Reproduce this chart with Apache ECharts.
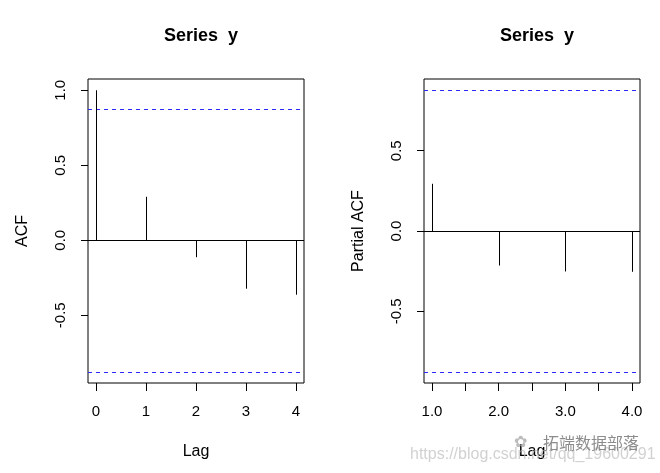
<!DOCTYPE html>
<html>
<head>
<meta charset="utf-8">
<script src="https://cdn.jsdelivr.net/npm/echarts@6/dist/echarts.min.js"></script>
<style>
  html, body { margin: 0; padding: 0; background: #fff; }
  #chart { width: 660px; height: 473px; }
</style>
</head>
<body>
<div id="chart"></div>
<script>
// ACF / PACF values
const acfLags = [0, 1, 2, 3, 4];
const acfValues = [1.0, 0.29, -0.113, -0.323, -0.363];
const pacfLags = [1, 2, 3, 4];
const pacfValues = [0.294, -0.215, -0.252, -0.254];
const ciBounds = [0.8765, -0.8765]; // +-1.96 / sqrt(5)

const acfXTicks = [0, 1, 2, 3, 4];
const pacfXTicks = [1, 1.5, 2, 2.5, 3, 3.5, 4];
const pacfXLabels = [1, 2, 3, 4];
const acfYTicks = [-0.5, 0, 0.5, 1.0];
const pacfYTicks = [-0.5, 0, 0.5];

const FONT = '"Liberation Sans", Arial, sans-serif';

const chart = echarts.init(document.getElementById('chart'));

function stemSeries(idx, lags, vals) {
  return {
    type: 'custom',
    xAxisIndex: idx,
    yAxisIndex: idx,
    data: lags.map((l, i) => [l, vals[i]]),
    renderItem: function (params, api) {
      const p0 = api.coord([api.value(0), 0]);
      const p1 = api.coord([api.value(0), api.value(1)]);
      return {
        type: 'line',
        shape: { x1: Math.round(p0[0]) + 0.5, y1: p0[1], x2: Math.round(p1[0]) + 0.5, y2: p1[1] },
        style: { stroke: '#000', lineWidth: 1 }
      };
    },
    markLine: {
      silent: true,
      symbol: 'none',
      label: { show: false },
      lineStyle: { color: '#000', type: 'solid', width: 1 },
      data: [{ yAxis: 0 }]
    },
    z: 5
  };
}

// dashed confidence bounds, drawn across the whole plot box
function ciSeries(idx) {
  return {
    type: 'custom',
    xAxisIndex: idx,
    yAxisIndex: idx,
    data: ciBounds.map(v => [0, v]),
    renderItem: function (params, api) {
      const cs = params.coordSys;
      const y = Math.round(api.coord([api.value(0), api.value(1)])[1]) + 0.5;
      return {
        type: 'line',
        shape: { x1: cs.x, y1: y, x2: cs.x + cs.width, y2: y },
        style: { stroke: '#2a2aff', lineWidth: 1, lineDash: [4, 4] }
      };
    },
    clip: false,
    z: 4
  };
}

function xAxis(idx, min, max, ticks, labels, fmt) {
  return {
    type: 'value',
    gridIndex: idx,
    min: min,
    max: max,
    name: 'Lag',
    nameLocation: 'middle',
    nameGap: 61,
    nameTextStyle: { fontFamily: FONT, fontSize: 16, color: '#000' },
    axisLine: { show: false, onZero: false },
    splitLine: { show: false },
    axisTick: { show: true, length: 8, customValues: ticks, lineStyle: { color: '#000' } },
    axisLabel: { customValues: labels, margin: 21, fontFamily: FONT, fontSize: 15, color: '#000', formatter: fmt }
  };
}

function yAxis(idx, min, max, ticks, name) {
  return {
    type: 'value',
    gridIndex: idx,
    min: min,
    max: max,
    name: name,
    nameLocation: 'middle',
    nameGap: 57,
    nameTextStyle: { fontFamily: FONT, fontSize: 16, color: '#000' },
    axisLine: { show: false, onZero: false },
    splitLine: { show: false },
    axisTick: { show: true, length: 7, customValues: ticks, lineStyle: { color: '#000' } },
    axisLabel: {
      customValues: ticks, rotate: 90, margin: 20, fontFamily: FONT, fontSize: 15, color: '#000',
      formatter: v => v.toFixed(1)
    }
  };
}

chart.setOption({
  animation: false,
  backgroundColor: '#fff',
  title: [
    { text: 'Series  y', left: 196, top: 22, textAlign: 'center',
      textStyle: { fontFamily: FONT, fontSize: 18, fontWeight: 'bold', color: '#000' } },
    { text: 'Series  y', left: 532, top: 22, textAlign: 'center',
      textStyle: { fontFamily: FONT, fontSize: 18, fontWeight: 'bold', color: '#000' } }
  ],
  grid: [
    { left: 88, top: 79, width: 216, height: 304, show: true, borderColor: '#000', borderWidth: 1, backgroundColor: 'transparent' },
    { left: 424, top: 79, width: 216, height: 304, show: true, borderColor: '#000', borderWidth: 1, backgroundColor: 'transparent' }
  ],
  xAxis: [
    xAxis(0, -0.16, 4.16, acfXTicks, acfXTicks, v => String(Math.round(v))),
    xAxis(1, 0.88, 4.12, pacfXTicks, pacfXLabels, v => v.toFixed(1))
  ],
  yAxis: [
    yAxis(0, -0.9516, 1.0751, acfYTicks, 'ACF'),
    yAxis(1, -0.9466, 0.9466, pacfYTicks, 'Partial ACF')
  ],
  series: [
    stemSeries(0, acfLags, acfValues),
    stemSeries(1, pacfLags, pacfValues),
    ciSeries(0),
    ciSeries(1)
  ],
  graphic: [
    { type: 'text', left: 410, top: 447, z: 100,
      style: { text: 'https://blog.csdn.net/qq_19600291', fill: 'rgba(190,190,190,0.7)', font: '16px ' + FONT } },
    { type: 'text', left: 543, top: 435, z: 100,
      style: { text: '拓端数据部落', fill: 'rgba(120,120,120,0.85)', font: '16px "Noto Sans CJK SC"' } },
    { type: 'text', left: 514, top: 435, z: 100,
      style: { text: '✿', fill: 'rgba(170,170,170,0.8)', font: '16px "DejaVu Sans"' } }
  ]
});
</script>
</body>
</html>
